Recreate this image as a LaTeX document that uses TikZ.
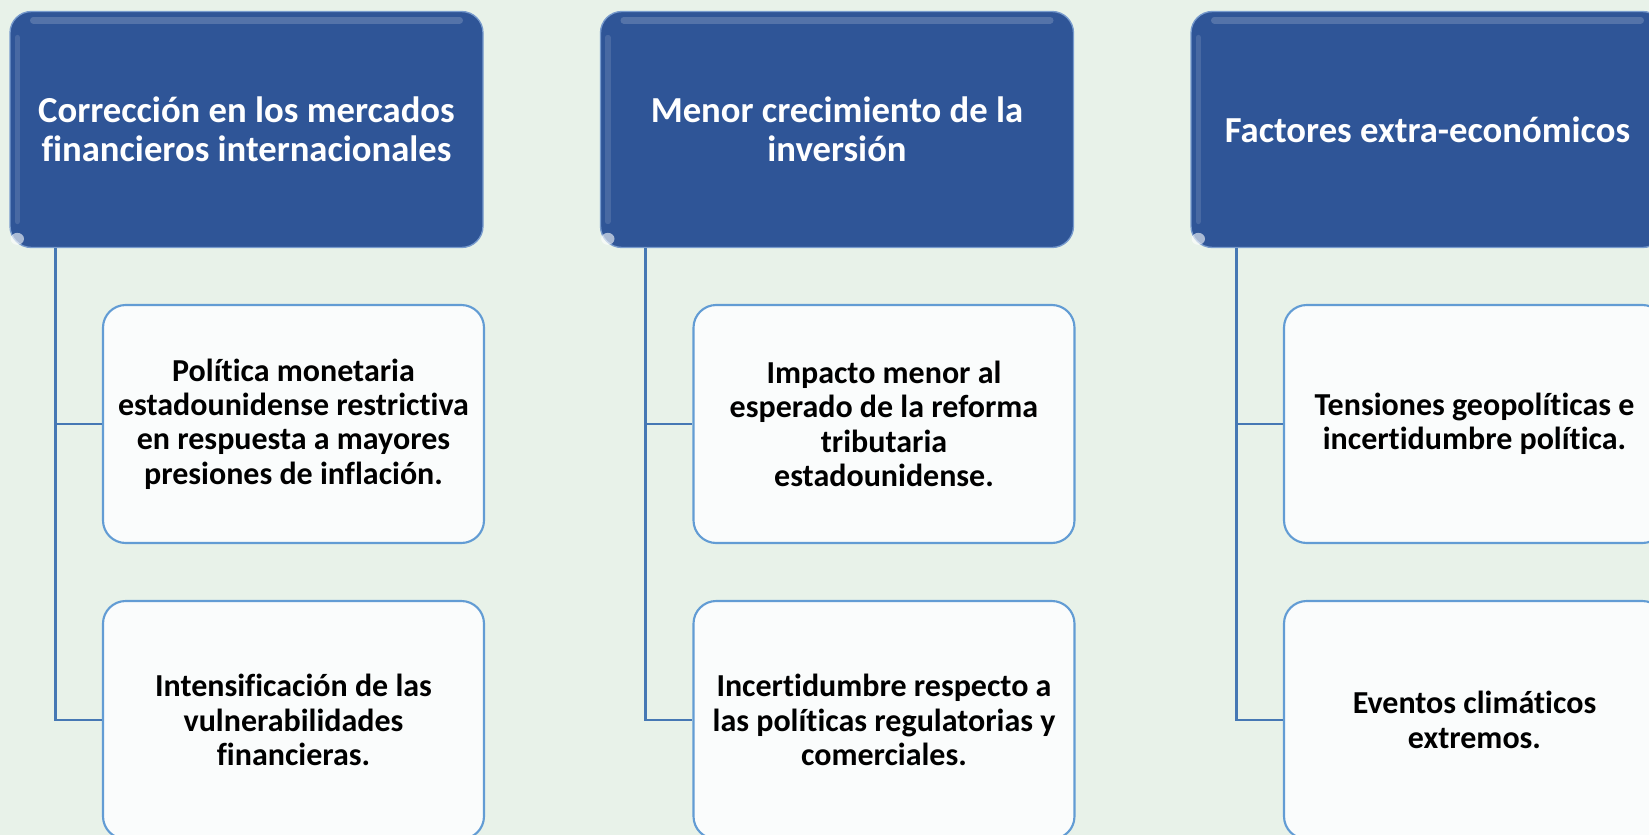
\documentclass[tikz,border=0pt]{standalone}
\usepackage{fontspec}
\setmainfont{Carlito}[Ligatures={NoCommon}]
\definecolor{bgc}{RGB}{232,242,233}
\definecolor{hdr}{RGB}{47,85,151}
\definecolor{hdredge}{RGB}{120,155,205}
\definecolor{chfill}{RGB}{250,252,252}
\definecolor{chedge}{RGB}{98,156,212}
\definecolor{conn}{RGB}{70,120,180}
\begin{document}
\begin{tikzpicture}[x=0.75pt,y=-0.75pt,
  hdrbox/.style={draw=hdredge, line width=1pt, fill=hdr, rounded corners=16pt,
    minimum width=354.75pt, minimum height=177pt, inner sep=0pt,
    text=white, font=\bfseries\fontsize{27.5}{29.25}\selectfont, align=center},
  childbox/.style={draw=chedge, line width=1.6pt, fill=chfill, rounded corners=17pt,
    minimum width=285.75pt, minimum height=178.5pt, inner sep=0pt,
    text=black, font=\bfseries\fontsize{24}{25.8}\selectfont, align=center},
  connline/.style={draw=conn, line width=2.1pt},
  gloss/.style={white, opacity=0.18, line width=5pt, line cap=round}]
\useasboundingbox (0,0) rectangle (1649,835);
\fill[bgc] (0,0) rectangle (1649,835);

% headers
\node[hdrbox] (h1) at (246.5,129.5) {Corrección en los mercados\\financieros internacionales};
\node[hdrbox] (h2) at (837,129.5) {Menor crecimiento de la\\inversión};
\node[hdrbox] (h3) at (1427.5,129.5) {Factores extra-económicos};

% gloss highlights
\foreach \n in {h1,h2,h3}{
  \draw[gloss] ([xshift=18pt,yshift=-7pt]\n.north west) -- ([xshift=-18pt,yshift=-7pt]\n.north east);
  \draw[white, opacity=0.12, line width=4pt, line cap=round] ([xshift=6pt,yshift=-20pt]\n.north west) -- ([xshift=6pt,yshift=20pt]\n.south west);
  \fill[white, opacity=0.6] ([xshift=6pt,yshift=7pt]\n.south west) ellipse (5pt and 4.5pt);
}

% children
\node[childbox] (c11) at (293.5,424) {Política monetaria\\estadounidense restrictiva\\en respuesta a mayores\\presiones de inflación.};
\node[childbox] (c12) at (293.5,720) {Intensificación de las\\vulnerabilidades\\financieras.};
\node[childbox] (c21) at (884,424) {Impacto menor al\\esperado de la reforma\\tributaria\\estadounidense.};
\node[childbox] (c22) at (884,720) {Incertidumbre respecto a\\las políticas regulatorias y\\comerciales.};
\node[childbox] (c31) at (1474.5,424) {Tensiones geopolíticas e\\incertidumbre política.};
\node[childbox] (c32) at (1474.5,720) {Eventos climáticos\\extremos.};

% connectors
\foreach \h/\a/\b in {h1/c11/c12, h2/c21/c22, h3/c31/c32}{
  \coordinate (top\h) at ([xshift=34.5pt]\h.south west);
  \draw[connline] (top\h) |- (\a.west);
  \draw[connline] (top\h) |- (\b.west);
}
\end{tikzpicture}
\end{document}
